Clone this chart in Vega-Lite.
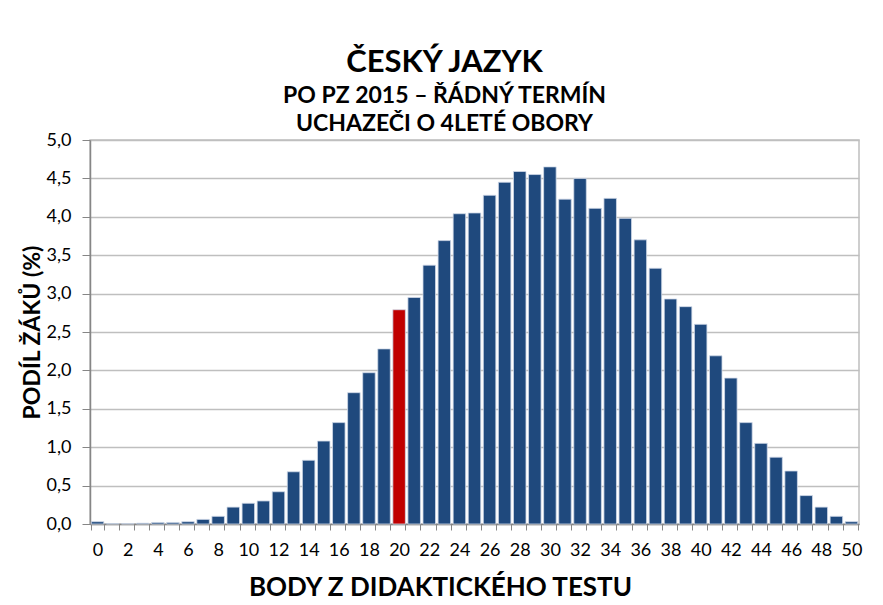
{
  "$schema": "https://vega.github.io/schema/vega-lite/v6.json",
  "width": 769,
  "height": 384,
  "autosize": {"type": "none"},
  "padding": {"left": 90, "top": 140, "right": 24, "bottom": 81},
  "background": "white",
  "title": {
    "text": "ČESKÝ JAZYK",
    "subtitle": ["PO PZ 2015 – ŘÁDNÝ TERMÍN", "UCHAZEČI O 4LETÉ OBORY"],
    "anchor": "middle",
    "dx": -30,
    "font": "Lato",
    "fontSize": 31,
    "fontWeight": "bold",
    "color": "black",
    "subtitleFont": "Lato",
    "subtitleFontSize": 23,
    "subtitleFontWeight": "bold",
    "subtitleColor": "black",
    "subtitleLineHeight": 28,
    "subtitlePadding": 6,
    "offset": -6
  },
  "data": {
    "values": [
      {"body": 0, "podil": 0.03}, {"body": 1, "podil": 0.005}, {"body": 2, "podil": 0.005},
      {"body": 3, "podil": 0.01}, {"body": 4, "podil": 0.02}, {"body": 5, "podil": 0.02},
      {"body": 6, "podil": 0.03}, {"body": 7, "podil": 0.06}, {"body": 8, "podil": 0.10},
      {"body": 9, "podil": 0.22}, {"body": 10, "podil": 0.27}, {"body": 11, "podil": 0.30},
      {"body": 12, "podil": 0.42}, {"body": 13, "podil": 0.68}, {"body": 14, "podil": 0.83},
      {"body": 15, "podil": 1.08}, {"body": 16, "podil": 1.32}, {"body": 17, "podil": 1.71},
      {"body": 18, "podil": 1.97}, {"body": 19, "podil": 2.28}, {"body": 20, "podil": 2.79},
      {"body": 21, "podil": 2.95}, {"body": 22, "podil": 3.37}, {"body": 23, "podil": 3.69},
      {"body": 24, "podil": 4.04}, {"body": 25, "podil": 4.05}, {"body": 26, "podil": 4.28},
      {"body": 27, "podil": 4.45}, {"body": 28, "podil": 4.59}, {"body": 29, "podil": 4.55},
      {"body": 30, "podil": 4.65}, {"body": 31, "podil": 4.23}, {"body": 32, "podil": 4.50},
      {"body": 33, "podil": 4.11}, {"body": 34, "podil": 4.24}, {"body": 35, "podil": 3.98},
      {"body": 36, "podil": 3.70}, {"body": 37, "podil": 3.33}, {"body": 38, "podil": 2.93},
      {"body": 39, "podil": 2.83}, {"body": 40, "podil": 2.60}, {"body": 41, "podil": 2.19},
      {"body": 42, "podil": 1.90}, {"body": 43, "podil": 1.32}, {"body": 44, "podil": 1.05},
      {"body": 45, "podil": 0.87}, {"body": 46, "podil": 0.69}, {"body": 47, "podil": 0.37},
      {"body": 48, "podil": 0.22}, {"body": 49, "podil": 0.10}, {"body": 50, "podil": 0.03}
    ]
  },
  "mark": {"type": "bar", "stroke": "#d0d9e8", "strokeWidth": 0.8},
  "encoding": {
    "x": {
      "field": "body",
      "type": "ordinal",
      "scale": {"paddingInner": 0.17, "paddingOuter": 0.085},
      "axis": {
        "title": "BODY Z DIDAKTICKÉHO TESTU",
        "titleFont": "Lato",
        "titleFontSize": 26,
        "titleFontWeight": "bold",
        "titleColor": "black",
        "titleX": 350,
        "titleY": 71,
        "titleBaseline": "alphabetic",
        "labelAngle": 0,
        "labelFont": "Lato",
        "labelFontSize": 18,
        "labelColor": "black",
        "labelPadding": 11,
        "labelOverlap": false,
        "labelExpr": "datum.value % 2 == 0 ? datum.label : ''",
        "tickBand": "extent",
        "tickSize": 6,
        "tickColor": "#868686",
        "domainColor": "#868686",
        "domainWidth": 1.5,
        "grid": false
      }
    },
    "y": {
      "field": "podil",
      "type": "quantitative",
      "scale": {"domain": [0, 5], "nice": false},
      "axis": {
        "title": "PODÍL ŽÁKŮ (%)",
        "titleFont": "Lato",
        "titleFontSize": 23,
        "titleFontWeight": "bold",
        "titleColor": "black",
        "titleX": -51,
        "titleY": 192,
        "titleAngle": -90,
        "titleAlign": "center",
        "titleBaseline": "alphabetic",
        "values": [0, 0.5, 1, 1.5, 2, 2.5, 3, 3.5, 4, 4.5, 5],
        "labelExpr": "replace(format(datum.value, '.1f'), '.', ',')",
        "labelFont": "Lato",
        "labelFontSize": 18,
        "labelColor": "black",
        "labelPadding": 11,
        "tickSize": 8,
        "tickColor": "#868686",
        "domainColor": "#868686",
        "domainWidth": 1.5,
        "gridColor": "#bfbfbf",
        "gridWidth": 1.5
      }
    },
    "color": {
      "condition": {"test": "datum.body == 20", "value": "#c00000"},
      "value": "#1f497d"
    }
  },
  "config": {
    "view": {"stroke": "#bfbfbf", "strokeWidth": 1.5}
  }
}
